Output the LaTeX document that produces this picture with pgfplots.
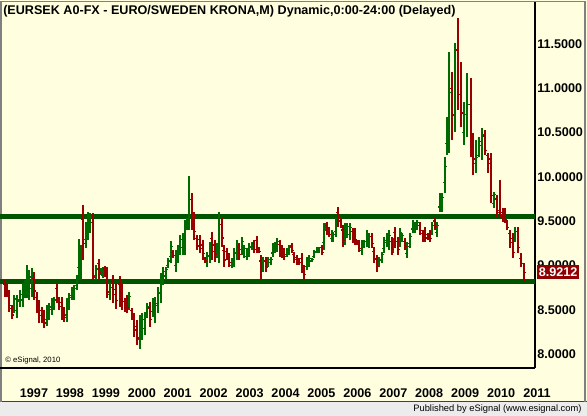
\documentclass[border=0pt]{standalone}
\usepackage{fontspec}
\setmainfont{Liberation Sans}
\usepackage{pgfplots}
\usepackage{pgfplotstable}
\pgfplotsset{compat=1.18}
\definecolor{bgyellow}{HTML}{FFFFE0}
\definecolor{stripgray}{HTML}{ECECEC}
\definecolor{bargreen}{HTML}{006A00}
\definecolor{barred}{HTML}{990000}
\definecolor{linegreen}{HTML}{005400}
\definecolor{boxred}{HTML}{900000}
\pgfdeclareplotmark{ohlco}{\pgfpathmoveto{\pgfqpoint{-1.5pt}{0pt}}\pgfpathlineto{\pgfqpoint{0pt}{0pt}}\pgfusepathqstroke}
\pgfdeclareplotmark{ohlcc}{\pgfpathmoveto{\pgfqpoint{0pt}{0pt}}\pgfpathlineto{\pgfqpoint{1.5pt}{0pt}}\pgfusepathqstroke}
\newcommand{\lbl}{\bfseries\fontsize{9.45}{11}\selectfont}
% x = horizontal bar position, h l o c = high low open close
\pgfplotstableread{
x h l o c
5 8.84 8.64 8.79 8.70
7 8.79 8.64 8.75 8.68
9 8.72 8.47 8.66 8.55
12 8.55 8.40 8.51 8.44
14 8.67 8.46 8.52 8.62
17 8.67 8.41 8.49 8.61
20 8.72 8.53 8.59 8.67
23 8.80 8.53 8.61 8.73
25 8.84 8.63 8.69 8.79
27 9.00 8.63 8.74 8.91
29 8.95 8.61 8.71 8.87
32 8.97 8.64 8.74 8.89
34 8.93 8.61 8.85 8.71
37 8.70 8.46 8.64 8.53
39 8.61 8.35 8.55 8.43
42 8.53 8.35 8.49 8.40
44 8.50 8.29 8.45 8.35
47 8.55 8.32 8.39 8.49
49 8.58 8.38 8.44 8.53
52 8.63 8.44 8.50 8.58
54 8.64 8.50 8.54 8.61
57 8.79 8.58 8.74 8.64
59 8.64 8.50 8.60 8.54
62 8.64 8.38 8.58 8.46
64 8.53 8.36 8.49 8.41
67 8.63 8.36 8.44 8.56
69 8.69 8.50 8.56 8.64
72 8.76 8.61 8.66 8.72
74 8.78 8.61 8.66 8.74
77 8.89 8.72 8.77 8.85
79 9.30 8.84 8.98 9.18
81 9.23 8.84 8.96 9.13
83 9.68 9.06 9.52 9.25
86 9.49 9.20 9.29 9.42
88 9.60 9.29 9.38 9.52
90 9.59 9.37 9.44 9.54
93 9.59 8.84 9.48 8.87
96 9.00 8.84 8.88 8.96
99 9.07 8.85 9.02 8.92
101 8.97 8.89 8.91 8.95
103 8.98 8.86 8.89 8.95
105 8.99 8.87 8.96 8.90
107 8.98 8.63 8.89 8.70
110 8.80 8.61 8.67 8.75
113 8.89 8.58 8.81 8.67
116 8.80 8.51 8.73 8.60
120 8.88 8.53 8.79 8.64
122 8.80 8.50 8.72 8.59
125 8.63 8.47 8.59 8.52
127 8.67 8.46 8.62 8.52
129 8.70 8.50 8.56 8.65
132 8.52 8.38 8.49 8.42
134 8.46 8.19 8.39 8.27
137 8.38 8.10 8.31 8.18
140 8.44 8.06 8.17 8.34
142 8.46 8.16 8.25 8.39
145 8.47 8.21 8.29 8.41
147 8.58 8.41 8.46 8.54
150 8.59 8.30 8.52 8.39
153 8.63 8.42 8.48 8.58
155 8.64 8.35 8.44 8.57
158 8.76 8.46 8.55 8.69
161 8.91 8.58 8.68 8.83
163 8.98 8.78 8.84 8.93
166 8.98 8.84 8.88 8.95
168 9.08 8.97 9.00 9.05
171 9.27 9.03 9.10 9.21
173 9.17 9.08 9.15 9.11
176 9.17 8.93 9.00 9.11
178 9.23 9.03 9.09 9.18
180 9.34 9.12 9.19 9.29
183 9.37 9.12 9.20 9.31
185 9.51 9.12 9.24 9.41
187 9.54 9.40 9.44 9.50
189 10.01 9.40 9.50 9.74
192 9.82 9.40 9.74 9.58
194 9.60 9.29 9.55 9.38
197 9.34 9.17 9.30 9.22
200 9.34 9.14 9.29 9.19
203 9.29 9.06 9.23 9.13
205 9.10 9.03 9.09 9.05
207 9.15 8.98 9.03 9.11
210 9.26 9.03 9.10 9.20
212 9.38 9.06 9.30 9.16
215 9.29 9.04 9.23 9.12
217 9.25 9.08 9.13 9.21
219 9.60 9.03 9.20 9.46
222 9.54 9.21 9.46 9.31
224 9.23 8.98 9.17 9.06
227 9.20 9.06 9.16 9.10
229 9.14 8.98 9.10 9.03
232 9.08 8.97 9.00 9.05
234 9.20 8.98 9.04 9.15
237 9.29 9.06 9.13 9.23
239 9.25 9.06 9.20 9.12
242 9.32 9.12 9.18 9.27
244 9.23 9.08 9.13 9.19
247 9.20 9.06 9.10 9.17
249 9.25 9.09 9.14 9.21
252 9.26 9.17 9.20 9.24
254 9.29 9.14 9.25 9.18
257 9.33 9.14 9.28 9.19
259 9.21 9.14 9.19 9.16
261 9.12 8.85 9.05 8.93
263 9.09 8.93 8.98 9.05
266 9.09 8.93 9.05 8.98
268 9.10 8.98 9.02 9.07
271 9.09 9.00 9.03 9.07
273 9.25 9.09 9.14 9.21
275 9.26 9.14 9.18 9.23
277 9.31 9.15 9.20 9.27
280 9.29 9.09 9.24 9.15
282 9.23 9.08 9.19 9.12
284 9.20 9.06 9.17 9.10
287 9.20 9.09 9.12 9.17
289 9.23 9.12 9.15 9.20
292 9.25 9.14 9.22 9.17
294 9.15 9.03 9.12 9.07
297 9.12 9.00 9.09 9.04
299 9.08 9.00 9.06 9.03
302 9.14 8.91 9.08 8.98
304 9.00 8.85 8.96 8.90
307 9.09 8.95 8.99 9.06
309 9.12 8.98 9.02 9.08
312 9.08 9.04 9.05 9.07
314 9.17 9.08 9.10 9.15
317 9.21 9.14 9.16 9.19
319 9.21 9.14 9.16 9.20
322 9.23 9.12 9.20 9.15
324 9.48 9.17 9.26 9.40
326 9.48 9.40 9.42 9.46
327 9.49 9.34 9.45 9.38
329 9.43 9.32 9.40 9.35
332 9.40 9.26 9.30 9.36
333 9.38 9.26 9.30 9.35
336 9.54 9.32 9.38 9.48
338 9.66 9.43 9.60 9.50
341 9.53 9.42 9.50 9.45
343 9.46 9.21 9.40 9.28
345 9.48 9.23 9.30 9.42
347 9.48 9.31 9.36 9.44
350 9.48 9.29 9.35 9.43
353 9.42 9.25 9.38 9.30
355 9.42 9.23 9.37 9.29
357 9.29 9.23 9.27 9.25
359 9.29 9.15 9.25 9.19
362 9.29 9.12 9.17 9.25
364 9.29 9.20 9.23 9.27
367 9.40 9.21 9.27 9.35
369 9.37 9.20 9.25 9.33
372 9.37 9.20 9.33 9.25
374 9.21 9.03 9.16 9.08
377 9.12 8.93 9.07 8.99
379 9.09 8.98 9.01 9.06
382 9.15 9.03 9.07 9.12
384 9.32 9.14 9.19 9.28
387 9.37 9.21 9.26 9.33
389 9.40 9.17 9.24 9.34
392 9.32 9.12 9.27 9.18
393 9.31 9.14 9.19 9.27
395 9.43 9.20 9.37 9.27
398 9.32 9.12 9.27 9.18
400 9.42 9.21 9.27 9.37
402 9.37 9.26 9.29 9.34
405 9.31 9.17 9.27 9.21
407 9.26 9.08 9.13 9.21
410 9.37 9.20 9.25 9.33
413 9.51 9.37 9.41 9.48
415 9.49 9.37 9.41 9.46
417 9.51 9.40 9.43 9.48
420 9.49 9.34 9.45 9.39
423 9.40 9.26 9.36 9.30
425 9.43 9.26 9.39 9.31
428 9.37 9.29 9.35 9.31
430 9.40 9.26 9.36 9.30
432 9.49 9.34 9.39 9.45
435 9.54 9.40 9.50 9.44
437 9.49 9.32 9.37 9.45
440 9.82 9.60 9.66 9.77
442 9.82 9.60 9.66 9.77
445 10.22 9.82 9.94 10.12
447 10.68 10.25 10.38 10.57
449 11.41 10.27 10.50 10.95
452 11.18 10.42 11.00 10.69
455 11.51 10.51 10.70 11.43
458 11.79 10.75 11.43 10.93
461 11.30 10.56 10.93 10.72
464 10.84 10.36 10.50 10.70
467 11.17 10.45 10.70 10.82
471 11.12 10.22 10.82 10.27
473 10.49 10.02 10.27 10.20
476 10.42 10.04 10.15 10.22
479 10.45 10.22 10.24 10.40
482 10.55 10.19 10.35 10.48
485 10.53 10.25 10.46 10.30
488 10.27 10.04 10.24 10.15
491 10.27 9.70 10.20 9.79
494 9.83 9.65 9.70 9.80
497 9.79 9.55 9.75 9.60
500 9.96 9.54 9.62 9.57
503 9.65 9.49 9.60 9.55
505 9.65 9.48 9.60 9.52
507 9.51 9.40 9.48 9.43
510 9.40 9.20 9.36 9.26
513 9.37 9.08 9.30 9.15
515 9.43 9.26 9.30 9.38
518 9.43 9.14 9.38 9.20
521 9.14 8.98 9.08 9.02
524 9.03 8.81 9.02 8.9212
}\data
\begin{document}
\begin{tikzpicture}
\fill[bgyellow] (0,10.5pt) rectangle (440.25pt,312pt);
\fill[stripgray] (0,0) rectangle (440.25pt,10.5pt);
\draw[black!75, line width=0.75pt] (0,10.5pt) -- (440.25pt,10.5pt);
\draw[gray, line width=1pt] (0.75pt,10.5pt) -- (0.75pt,311pt) -- (438.75pt,311pt) -- (438.75pt,10.5pt);
\node[anchor=west, inner sep=0pt, font=\lbl] at (2.25pt,303.75pt) {(EURSEK A0-FX - EURO/SWEDEN KRONA,M) Dynamic,0:00-24:00 (Delayed)};
\node[anchor=east, inner sep=0pt, font=\fontsize{7}{8}\selectfont] at (436.3pt,5.1pt) {Published by eSignal (www.esignal.com)};
\node[anchor=west, inner sep=0pt, font=\fontsize{5.8}{7}\selectfont] at (3.75pt,41.6pt) {© eSignal, 2010};
\begin{axis}[
  at={(0pt,36pt)}, anchor=south west,
  scale only axis, width=401.25pt, height=274.5pt,
  xmin=0, xmax=535, ymin=7.842, ymax=11.973,
  axis x line*=bottom, axis y line*=right,
  axis line style={-, black, line width=1pt},
  major tick length=0pt,
  xtick={14,49.93,85.86,121.79,157.72,193.65,229.58,265.51,301.44,337.37,373.3,409.23,445.16,481.09,517.02},
  xticklabels={1997,1998,1999,2000,2001,2002,2003,2004,2005,2006,2007,2008,2009,2010,2011},
  xticklabel style={anchor=center, inner sep=0pt, yshift=-18.75pt, xshift=15pt, font=\lbl},
  ytick={8,8.5,9,9.5,10,10.5,11,11.5},
  yticklabels={8.0000,8.5000,9.0000,9.5000,10.0000,10.5000,11.0000,11.5000},
  yticklabel style={anchor=west, inner sep=0pt, xshift=1.5pt, font=\lbl},
  clip mode=individual,
]
\addplot[linegreen, line width=3.75pt, forget plot] coordinates {(0,9.555) (535,9.555)};
\addplot[linegreen, line width=3.75pt, forget plot] coordinates {(0,8.822) (535,8.822)};
% up bars
\addplot[bargreen, line width=0.9pt, only marks, mark=ohlco, mark options={solid},
  restrict expr to domain={\thisrow{c}-\thisrow{o}}{0.00001:100},
  error bars/.cd, y dir=both, y explicit, error mark=none, error bar style={line width=0.9pt, bargreen}]
  table[x=x, y=o, y error plus expr=\thisrow{h}-\thisrow{o}, y error minus expr=\thisrow{o}-\thisrow{l}] {\data};
\addplot[bargreen, line width=0.9pt, only marks, mark=ohlcc, mark options={solid},
  restrict expr to domain={\thisrow{c}-\thisrow{o}}{0.00001:100}]
  table[x=x, y=c] {\data};
% down bars
\addplot[barred, line width=0.9pt, only marks, mark=ohlco, mark options={solid},
  restrict expr to domain={\thisrow{c}-\thisrow{o}}{-100:-0.00001},
  error bars/.cd, y dir=both, y explicit, error mark=none, error bar style={line width=0.9pt, barred}]
  table[x=x, y=o, y error plus expr=\thisrow{h}-\thisrow{o}, y error minus expr=\thisrow{o}-\thisrow{l}] {\data};
\addplot[barred, line width=0.9pt, only marks, mark=ohlcc, mark options={solid},
  restrict expr to domain={\thisrow{c}-\thisrow{o}}{-100:-0.00001}]
  table[x=x, y=c] {\data};
\node[fill=boxred, text=white, font=\lbl, anchor=west, inner xsep=1.4pt, inner ysep=0pt, minimum height=10.75pt, xshift=1.25pt] at (axis cs:535,8.923) {8.9212};
\end{axis}
\pgfresetboundingbox
\useasboundingbox (0,0) rectangle (440.25pt,312pt);
\end{tikzpicture}
\end{document}
